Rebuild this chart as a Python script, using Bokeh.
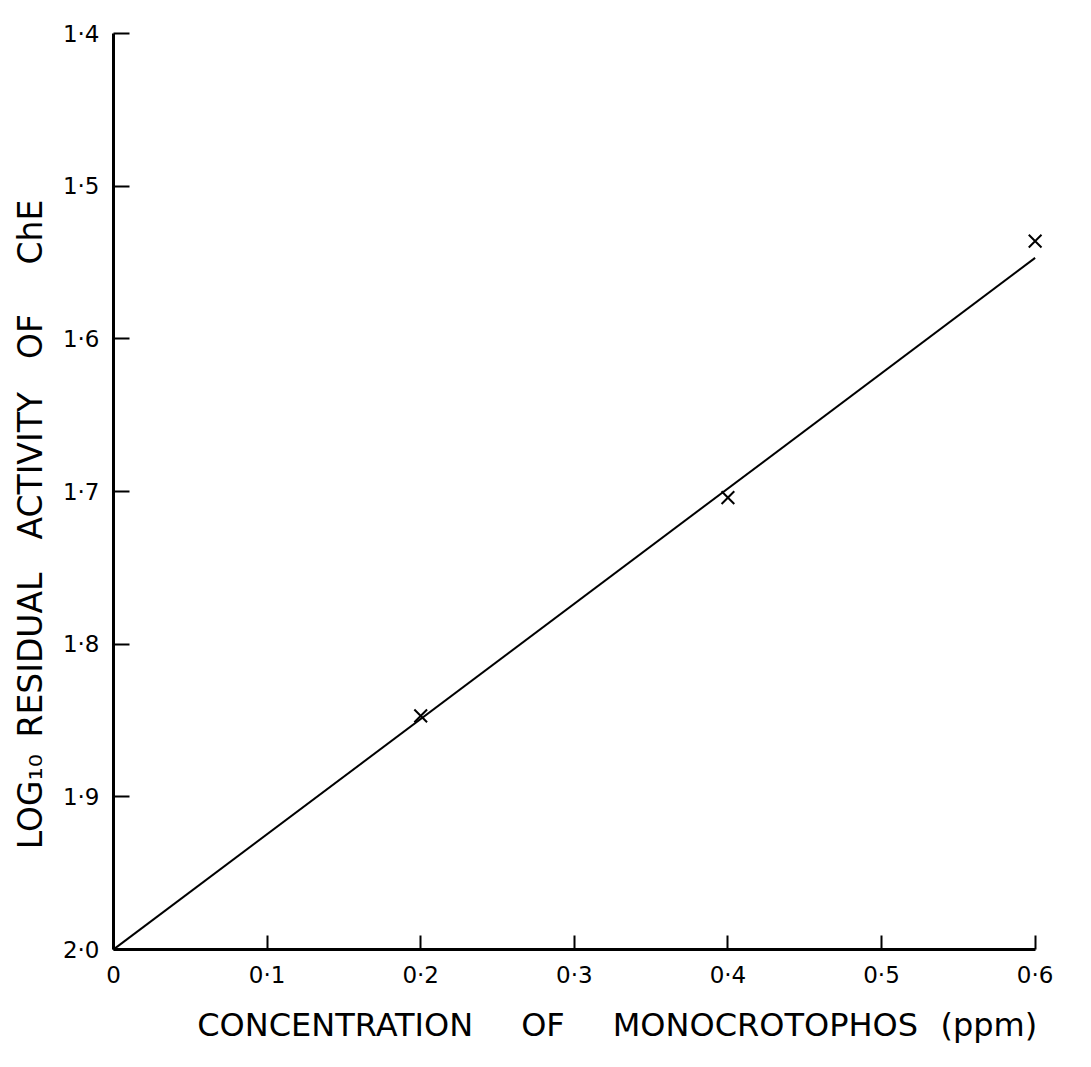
from bokeh.plotting import figure
from bokeh.models import Range1d, FixedTicker
from bokeh.embed import file_html
from bokeh.resources import INLINE

# Data
conc_ppm = [0.2, 0.4, 0.6]
log_residual = [1.847, 1.704, 1.536]
fit_x = [0.0, 0.6]
fit_y = [2.0, 1.547]

x_ticks = [0.0, 0.1, 0.2, 0.3, 0.4, 0.5, 0.6]
x_tick_labels = ["0", "0·1", "0·2", "0·3", "0·4", "0·5", "0·6"]
y_ticks = [1.4, 1.5, 1.6, 1.7, 1.8, 1.9, 2.0]
y_tick_labels = ["1·4", "1·5", "1·6", "1·7", "1·8", "1·9", "2·0"]

FONT = "DejaVu Sans"
EM = "\u2003"
EN = "\u2002"
TH = "\u2009"

p = figure(width=1075, height=1050, output_backend="svg", toolbar_location=None,
           x_range=Range1d(0, 0.61), y_range=Range1d(2.0, 1.4),
           min_border_left=113, min_border_top=33, min_border_right=25, min_border_bottom=101)
p.outline_line_color = None
p.xgrid.visible = False
p.ygrid.visible = False
p.background_fill_color = "white"

p.line(fit_x, fit_y, line_color="black", line_width=2)
p.scatter(conc_ppm, log_residual, marker="x", size=18, line_color="black", line_width=2)

xa = p.xaxis[0]
xa.bounds = (0, 0.6)
xa.ticker = FixedTicker(ticks=x_ticks)
xa.major_label_overrides = dict(zip(x_ticks, x_tick_labels))
xa.minor_tick_line_color = None
xa.major_tick_in = 14
xa.major_tick_out = 0
xa.major_tick_line_width = 2
xa.axis_line_width = 3
xa.major_label_standoff = 12
xa.major_label_text_font = FONT
xa.major_label_text_font_size = "23px"
xa.major_label_text_color = "black"
xa.axis_label = (EM + EM + TH + "CONCENTRATION" + EM + EN + "OF" + EM + EN
                 + "MONOCROTOPHOS" + EN + TH + "(ppm)")
xa.axis_label_text_font = FONT
xa.axis_label_text_font_style = "normal"
xa.axis_label_text_font_size = "32px"
xa.axis_label_standoff = 15
xa.axis_label_text_color = "black"

ya = p.yaxis[0]
ya.ticker = FixedTicker(ticks=y_ticks)
ya.major_label_overrides = dict(zip(y_ticks, y_tick_labels))
ya.minor_tick_line_color = None
ya.major_tick_in = 16
ya.major_tick_out = 0
ya.major_tick_line_width = 2
ya.axis_line_width = 3
ya.major_label_standoff = 14
ya.major_label_text_font = FONT
ya.major_label_text_font_size = "23px"
ya.major_label_text_color = "black"
ya.axis_label = ("LOG₁₀" + EN + "RESIDUAL" + EM + "ACTIVITY" + EM
                 + "OF" + EM + EN + "ChE" + EM + EM)
ya.axis_label_text_font = FONT
ya.axis_label_text_font_style = "normal"
ya.axis_label_text_font_size = "33px"
ya.axis_label_standoff = 10
ya.axis_label_text_color = "black"

open("out.html", "w").write(file_html(p, INLINE))
